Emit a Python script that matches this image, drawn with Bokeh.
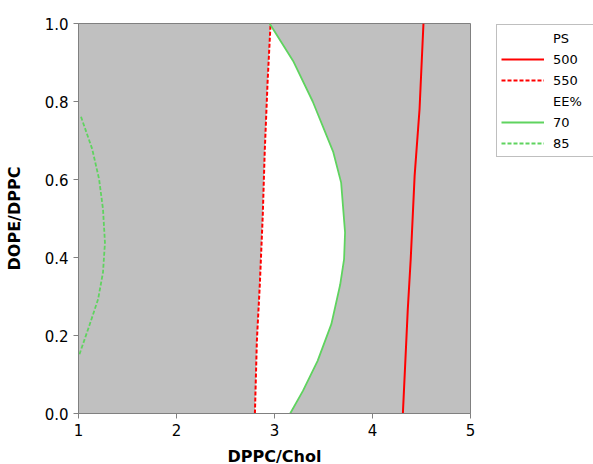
from bokeh.plotting import figure
from bokeh.models import Legend, LegendItem, FixedTicker, PrintfTickFormatter
from bokeh.embed import file_html
from bokeh.resources import INLINE

# ---- data ----
x_ticks = [1, 2, 3, 4, 5]
y_ticks = [0.0, 0.2, 0.4, 0.6, 0.8, 1.0]

# PS = 500 contour (solid red)
ps500_x = [4.31, 4.36, 4.39, 4.43, 4.48, 4.52]
ps500_y = [0.0, 0.267, 0.396, 0.61, 0.78, 1.0]
# PS = 550 contour (dashed red)
ps550_x = [2.80, 2.82, 2.85, 2.88, 2.90, 2.93, 2.96]
ps550_y = [0.0, 0.186, 0.33, 0.507, 0.67, 0.853, 1.0]
# EE% = 70 contour (solid green)
ee70_x = [3.16, 3.29, 3.44, 3.58, 3.67, 3.71, 3.72, 3.68, 3.60, 3.39, 3.19, 2.95]
ee70_y = [0.0, 0.058, 0.135, 0.229, 0.33, 0.396, 0.464, 0.592, 0.67, 0.80, 0.904, 1.0]
# EE% = 85 contour (dashed green)
ee85_x = [1.01, 1.11, 1.20, 1.25, 1.27, 1.25, 1.21, 1.14, 1.02]
ee85_y = [0.152, 0.225, 0.293, 0.362, 0.438, 0.524, 0.601, 0.678, 0.765]

RED = "#ff0000"
GREEN = "#5fd35f"
GRAY = "#c0c0c0"
AXIS = "#808080"

p = figure(width=585, height=448, x_range=(1, 5), y_range=(0, 1),
           output_backend="svg", toolbar_location=None,
           min_border_left=78, min_border_top=23, min_border_right=115, min_border_bottom=35,
           background_fill_color=GRAY, border_fill_color="white")
p.frame_width = 392
p.frame_height = 390
p.outline_line_color = AXIS
p.grid.visible = False

# feasible (white) region: between PS 550 and EE% 70 contours
patch_x = ps550_x + ee70_x[::-1]
patch_y = ps550_y + ee70_y[::-1]
p.patch(patch_x, patch_y, fill_color="white", line_color=None)

r500 = p.line(ps500_x, ps500_y, line_color=RED, line_width=2)
r550 = p.line(ps550_x, ps550_y, line_color=RED, line_width=2, line_dash="4 2")
r70 = p.line(ee70_x, ee70_y, line_color=GREEN, line_width=1.8)
r85 = p.line(ee85_x, ee85_y, line_color=GREEN, line_width=1.8, line_dash="4 2")
h_ps = p.line([], [], line_alpha=0)
h_ee = p.line([], [], line_alpha=0)

legend = Legend(items=[
    LegendItem(label="PS", renderers=[h_ps]),
    LegendItem(label="500", renderers=[r500]),
    LegendItem(label="550", renderers=[r550]),
    LegendItem(label="EE%", renderers=[h_ee]),
    LegendItem(label="70", renderers=[r70]),
    LegendItem(label="85", renderers=[r85]),
], location=(26, 256))
legend.padding = 4
legend.spacing = 3
legend.glyph_height = 18
legend.label_height = 18
legend.glyph_width = 43
legend.label_standoff = 9
legend.label_width = 46
legend.label_text_font = "DejaVu Sans"
legend.label_text_font_size = "13px"
legend.label_text_color = "black"
legend.border_line_color = AXIS
legend.border_line_width = 1
legend.background_fill_color = "white"
legend.background_fill_alpha = 1
legend.margin = 0
p.add_layout(legend, "right")

p.xaxis.ticker = FixedTicker(ticks=x_ticks)
p.yaxis.ticker = FixedTicker(ticks=y_ticks)
p.yaxis.formatter = PrintfTickFormatter(format="%.1f")
for ax in (p.xaxis, p.yaxis):
    ax.axis_line_color = AXIS
    ax.major_tick_line_color = AXIS
    ax.major_tick_out = 5
    ax.major_tick_in = 0
    ax.minor_tick_line_color = None
    ax.major_label_text_font = "DejaVu Sans"
    ax.major_label_text_font_size = "15px"
    ax.major_label_text_color = "black"
    ax.axis_label_text_font = "DejaVu Sans"
    ax.axis_label_text_font_size = "16px"
    ax.axis_label_text_font_style = "bold"
    ax.axis_label_text_color = "black"
p.xaxis.axis_label = "DPPC/Chol"
p.yaxis.axis_label = "DOPE/DPPC"
p.xaxis.axis_label_standoff = 8
p.yaxis.axis_label_standoff = 18

open("out.html", "w").write(file_html(p, INLINE))
